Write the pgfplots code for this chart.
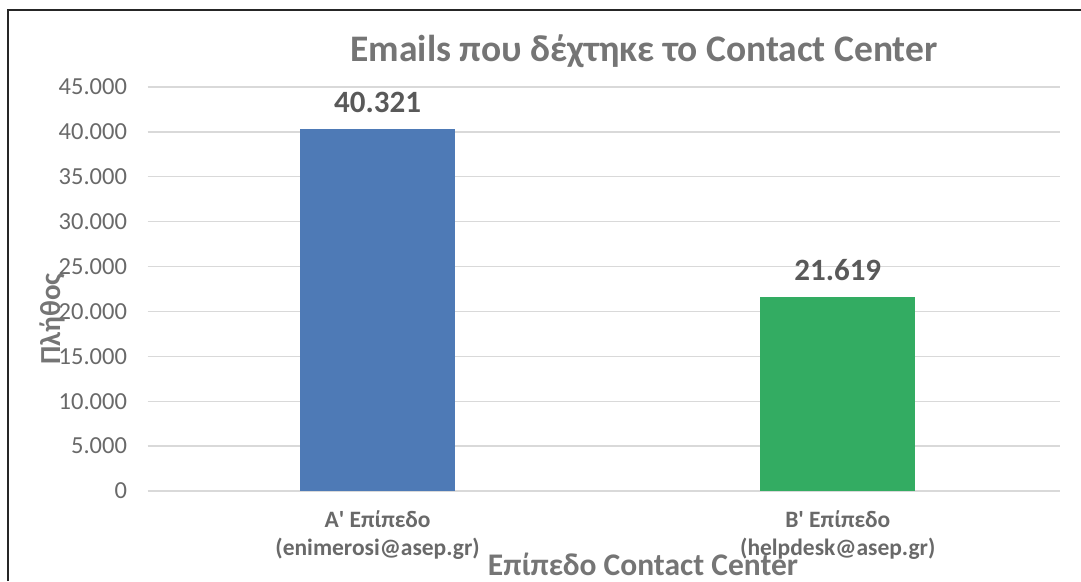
\documentclass[border=0pt]{standalone}
\usepackage{pgfplots}
\pgfplotsset{compat=1.18}
\usepackage{fontspec}
\setmainfont{Carlito}
\definecolor{txt}{HTML}{595959}
\definecolor{tck}{HTML}{696969}
\definecolor{ttl}{HTML}{757575}
\definecolor{barA}{HTML}{4E7AB6}
\definecolor{barB}{HTML}{33AC62}
\definecolor{gridc}{HTML}{D9D9D9}

\begin{document}
\begin{tikzpicture}[x=1pt,y=1pt]
\useasboundingbox (0,0) rectangle (1081,581);
% chart frame (only left and top edges are in view)
\draw[line width=2pt, color=black!85] (8.3,0) -- (8.3,570.8) -- (1081,570.8);

\begin{axis}[
    at={(147.5pt,90pt)}, anchor=south west,
    scale only axis,
    width=912.5pt, height=404pt,
    xmin=-0.5, xmax=1.483,
    ymin=0, ymax=45000,
    ytick={0,5000,...,45000},
    xtick={0,1},
    xticklabels={{Α\textquotesingle{} Επίπεδο\\(enimerosi@asep.gr)},{Β\textquotesingle{} Επίπεδο\\(helpdesk@asep.gr)}},
    xticklabel style={align=center, font=\fontsize{23.5}{28}\selectfont\bfseries, text=tck, yshift=-16pt},
    yticklabel style={font=\fontsize{24.5}{28}\selectfont, text=tck, xshift=-17pt},
    scaled y ticks=false,
    /pgf/number format/.cd, fixed, precision=0, 1000 sep={.}, assume math mode=true,
    /pgfplots/.cd,
    axis line style={draw=none},
    major tick length=0pt,
    ymajorgrids=true,
    grid style={gridc, line width=1.3pt},
    ybar, bar width=155pt, bar shift=0pt,
    nodes near coords,
    nodes near coords style={font=\fontsize{31}{34}\selectfont\bfseries, text=txt, anchor=south, yshift=13pt,
        /pgf/number format/.cd, fixed, precision=0, 1000 sep={.}, assume math mode=true},
]
\addplot[fill=barA, draw=none] coordinates {(0,40321)};
\addplot[fill=barB, draw=none] coordinates {(1,21619)};
\end{axis}

\node[font=\fontsize{37.5}{42}\selectfont\bfseries, text=ttl] at (644,530) {Emails που δέχτηκε το Contact Center};
\node[font=\fontsize{29}{32}\selectfont\bfseries, text=ttl, rotate=90] at (52,262) {Πλήθος};
\node[font=\fontsize{31.5}{34}\selectfont\bfseries, text=ttl, anchor=base] at (643,6) {Επίπεδο Contact Center};
\end{tikzpicture}
\end{document}
